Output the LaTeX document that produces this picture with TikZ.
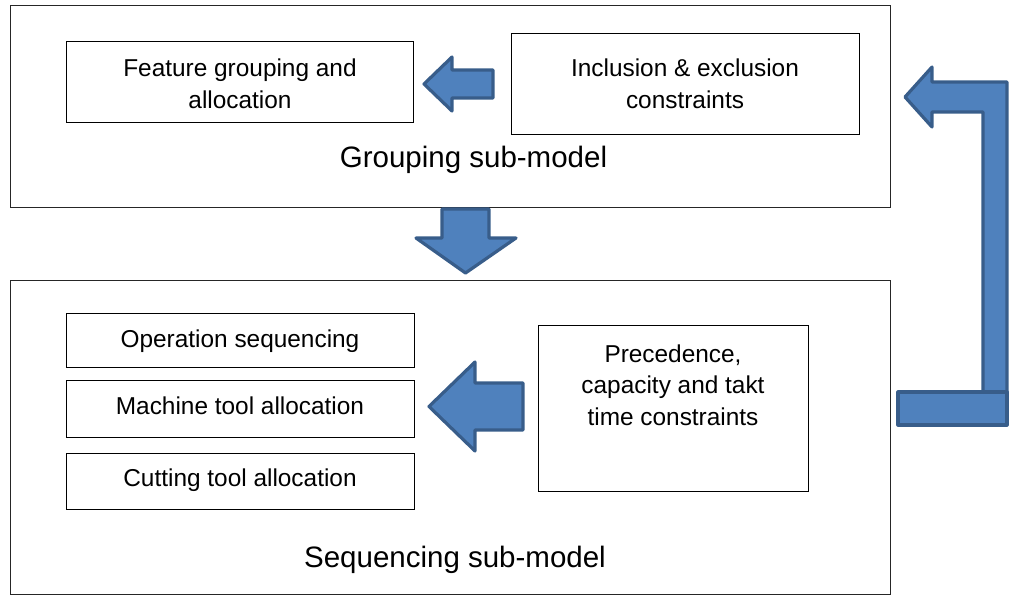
\documentclass[tikz,border=0pt]{standalone}
\usepackage{fontspec}
\setmainfont{Liberation Sans}
\definecolor{afill}{HTML}{4F81BD}
\definecolor{aline}{HTML}{385D8A}
\begin{document}
\begin{tikzpicture}[x=1pt,y=-1pt,
  box/.style={draw=black,line width=1.2pt,inner sep=0pt,anchor=north west},
  outerbox/.style={draw=black!85,line width=1.4pt,inner sep=0pt,anchor=north west},
  lbl/.style={font=\fontsize{24.4}{32.5}\selectfont,align=center,inner sep=0pt},
  big/.style={font=\fontsize{29.5}{35}\selectfont,inner sep=0pt,anchor=base},
  blockarrow/.style={fill=afill,draw=aline,line width=3.2pt,line join=round}]
\useasboundingbox (0,0) rectangle (1009,596);
% outer boxes
\node[outerbox,minimum width=880pt,minimum height=202pt] (grp) at (10,5) {};
\node[outerbox,minimum width=880pt,minimum height=314pt] (seq) at (10,280) {};
% inner boxes
\node[box,minimum width=347pt,minimum height=81pt] (feat) at (66,41) {};
\node[box,minimum width=348pt,minimum height=101pt] (incl) at (511,33) {};
\node[box,minimum width=348pt,minimum height=54pt] (oper) at (66,313) {};
\node[box,minimum width=348pt,minimum height=57pt] (mach) at (66,380) {};
\node[box,minimum width=348pt,minimum height=56pt] (cutt) at (66,453) {};
\node[box,minimum width=270pt,minimum height=166pt] (prec) at (538,325) {};
% labels
\node[lbl,anchor=north] (featl) at (240,58.6) {Feature grouping and\\allocation};
\node[lbl,anchor=north] (incll) at (685,58.6) {Inclusion \& exclusion\\constraints};
\node[lbl,anchor=base] (operl) at (240,347) {Operation sequencing};
\node[lbl,anchor=base] (machl) at (240,414) {Machine tool allocation};
\node[lbl,anchor=base] (cuttl) at (240,486) {Cutting tool allocation};
\node[lbl,anchor=north,font=\fontsize{24.4}{31.5}\selectfont] (precl) at (673,344.6) {Precedence,\\capacity and takt\\time constraints};
\node[big] (grpl) at (473.5,168) {Grouping sub-model};
\node[big] (seql) at (455,567) {Sequencing sub-model};
% block arrows
\draw[blockarrow] (424,84) -- (452,57) -- (452,70) -- (493,70) -- (493,98) -- (452,98) -- (452,111) -- cycle;
\draw[blockarrow] (465.5,273) -- (416,238) -- (442,238) -- (442,209) -- (489,209) -- (489,238) -- (516,238) -- cycle;
\draw[blockarrow] (429,406.5) -- (475,362) -- (475,383) -- (523,383) -- (523,430) -- (475,430) -- (475,451) -- cycle;
\draw[blockarrow] (905,97) -- (932,67) -- (932,82) -- (1007,82) -- (1007,392) -- (983,392) -- (983,112) -- (932,112) -- (932,127) -- cycle;
\draw[blockarrow] (898,392) rectangle (1007,425);
\end{tikzpicture}
\end{document}
